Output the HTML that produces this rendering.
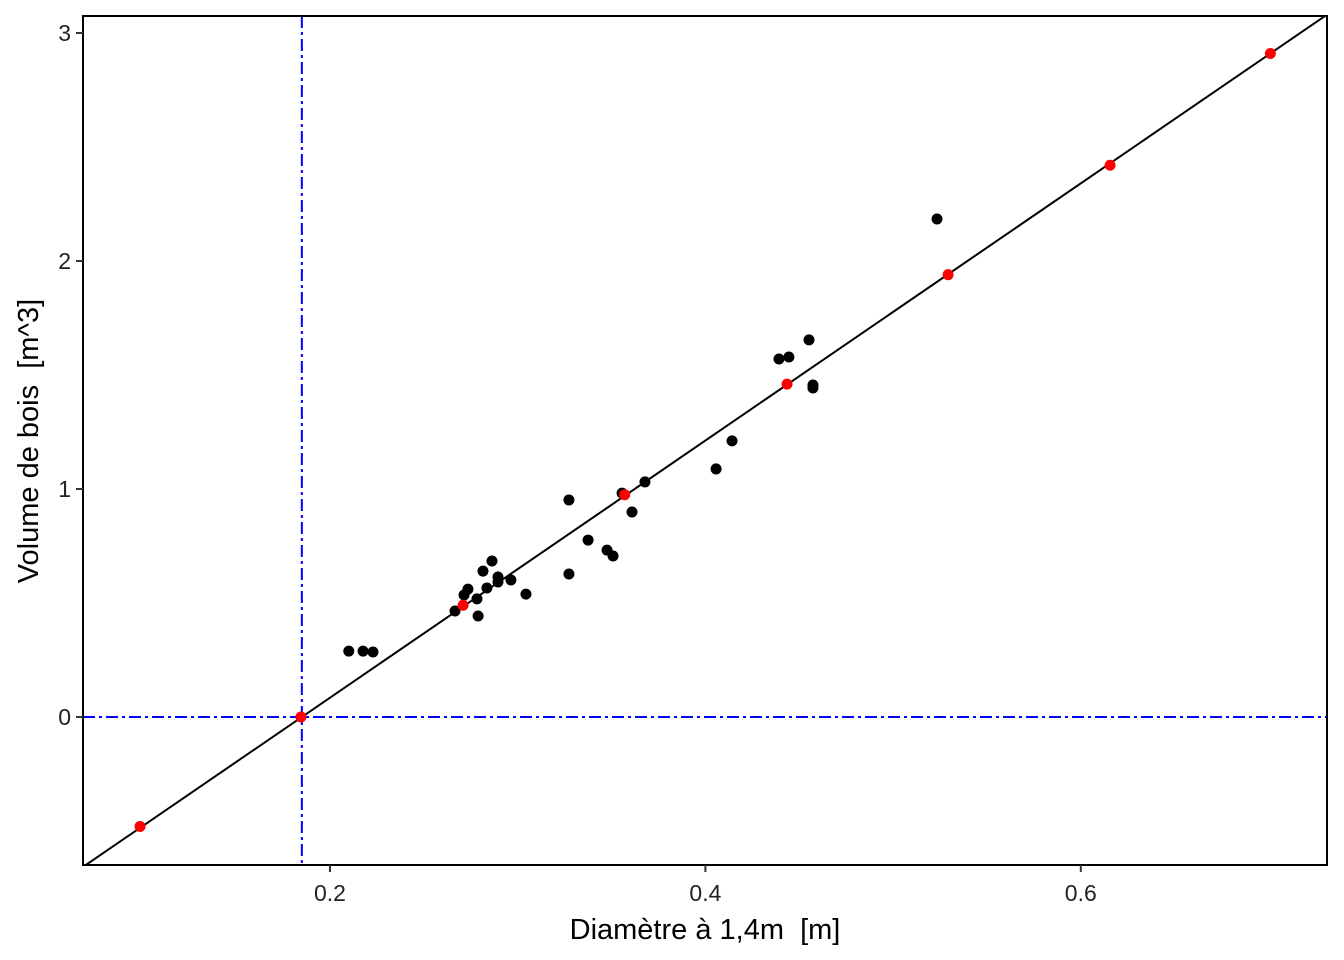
<!DOCTYPE html>
<html><head><meta charset="utf-8"><style>body{margin:0;background:#fff}svg{display:block}text{font-family:"Liberation Sans",sans-serif;white-space:pre}</style></head>
<body>
<svg id="chart" width="1344" height="960" xmlns="http://www.w3.org/2000/svg"></svg>
<script>
const blackX=[0.210,0.2176,0.2229,0.2666,0.2714,0.2735,0.2783,0.2789,0.2815,0.2836,0.2863,0.2895,0.2895,0.2964,0.3044,0.3273,0.3273,0.3375,0.3476,0.3508,0.3556,0.3609,0.3678,0.4057,0.4142,0.4392,0.4445,0.4552,0.4573,0.4573,0.5234];
const blackY=[0.289,0.289,0.285,0.465,0.535,0.561,0.518,0.443,0.640,0.566,0.684,0.614,0.592,0.601,0.539,0.952,0.627,0.776,0.732,0.706,0.982,0.899,1.031,1.088,1.211,1.570,1.579,1.654,1.456,1.443,2.184];
const redX=[0.0988,0.1845,0.2709,0.357,0.4435,0.5293,0.6156,0.701];
const redY=[-0.48,0,0.49,0.975,1.46,1.94,2.42,2.91];
const xTicks=[0.2,0.4,0.6];
const yTicks=[0,1,2,3];
const intercept=0.185, slope=5.64;
const L=83,T=16,R=1327,B=865;
const xs=v=>330+(v-0.2)*1877;
const ys=v=>717-v*228;
const svg=document.getElementById('chart');
const NS='http://www.w3.org/2000/svg';
function mk(tag,attrs,parent){const e=document.createElementNS(NS,tag);for(const k in attrs)e.setAttribute(k,attrs[k]);(parent||svg).appendChild(e);return e;}
const clip=mk('clipPath',{id:'pc'});mk('rect',{x:L,y:T,width:R-L,height:B-T},clip);
const g=mk('g',{'clip-path':'url(#pc)'});


const x0=(L-330)/1877+0.2,x1=(R-330)/1877+0.2;
const fl=mk('line',{x1:xs(x0),y1:ys(slope*(x0-intercept)),x2:xs(x1),y2:ys(slope*(x1-intercept)),stroke:'#000','stroke-width':2},g);


const vl=mk('line',{x1:xs(intercept),y1:T,x2:xs(intercept),y2:B,stroke:'#00f','stroke-width':2,'stroke-dasharray':'12 4 3 4'},g);


const hl=mk('line',{x1:L,y1:ys(0),x2:R,y2:ys(0),stroke:'#00f','stroke-width':2,'stroke-dasharray':'12 4 3 4'},g);


blackX.forEach((v,i)=>{const c=mk('circle',{cx:xs(v),cy:ys(blackY[i]),r:5.5,fill:'#000'},g);

});
redX.forEach((v,i)=>{const c=mk('circle',{cx:xs(v),cy:ys(redY[i]),r:5.5,fill:'#f00'},g);

});
const fr=mk('rect',{x:L,y:T,width:R-L,height:B-T,fill:'none',stroke:'#000','stroke-width':2});


xTicks.forEach(t=>{mk('line',{x1:xs(t),y1:B,x2:xs(t),y2:B+7,stroke:'#333','stroke-width':2});
const tx=mk('text',{x:xs(t),y:B+36,'text-anchor':'middle','font-size':23,fill:'#222'});tx.textContent=t.toFixed(1);

});
yTicks.forEach(t=>{mk('line',{x1:L-7,y1:ys(t),x2:L,y2:ys(t),stroke:'#333','stroke-width':2});
const tx=mk('text',{x:L-12,y:ys(t)+8,'text-anchor':'end','font-size':23,fill:'#222'});tx.textContent=t;

});
const xt=mk('text',{x:705,y:939,'text-anchor':'middle','font-size':29,fill:'#000','xml:space':'preserve'});xt.textContent='Diamètre à 1,4m  [m]';


const yt=mk('text',{x:0,y:0,'text-anchor':'middle','font-size':29,fill:'#000','xml:space':'preserve',transform:'translate(38,441) rotate(-90)'});yt.textContent='Volume de bois  [m^3]';


</script>
</body></html>
